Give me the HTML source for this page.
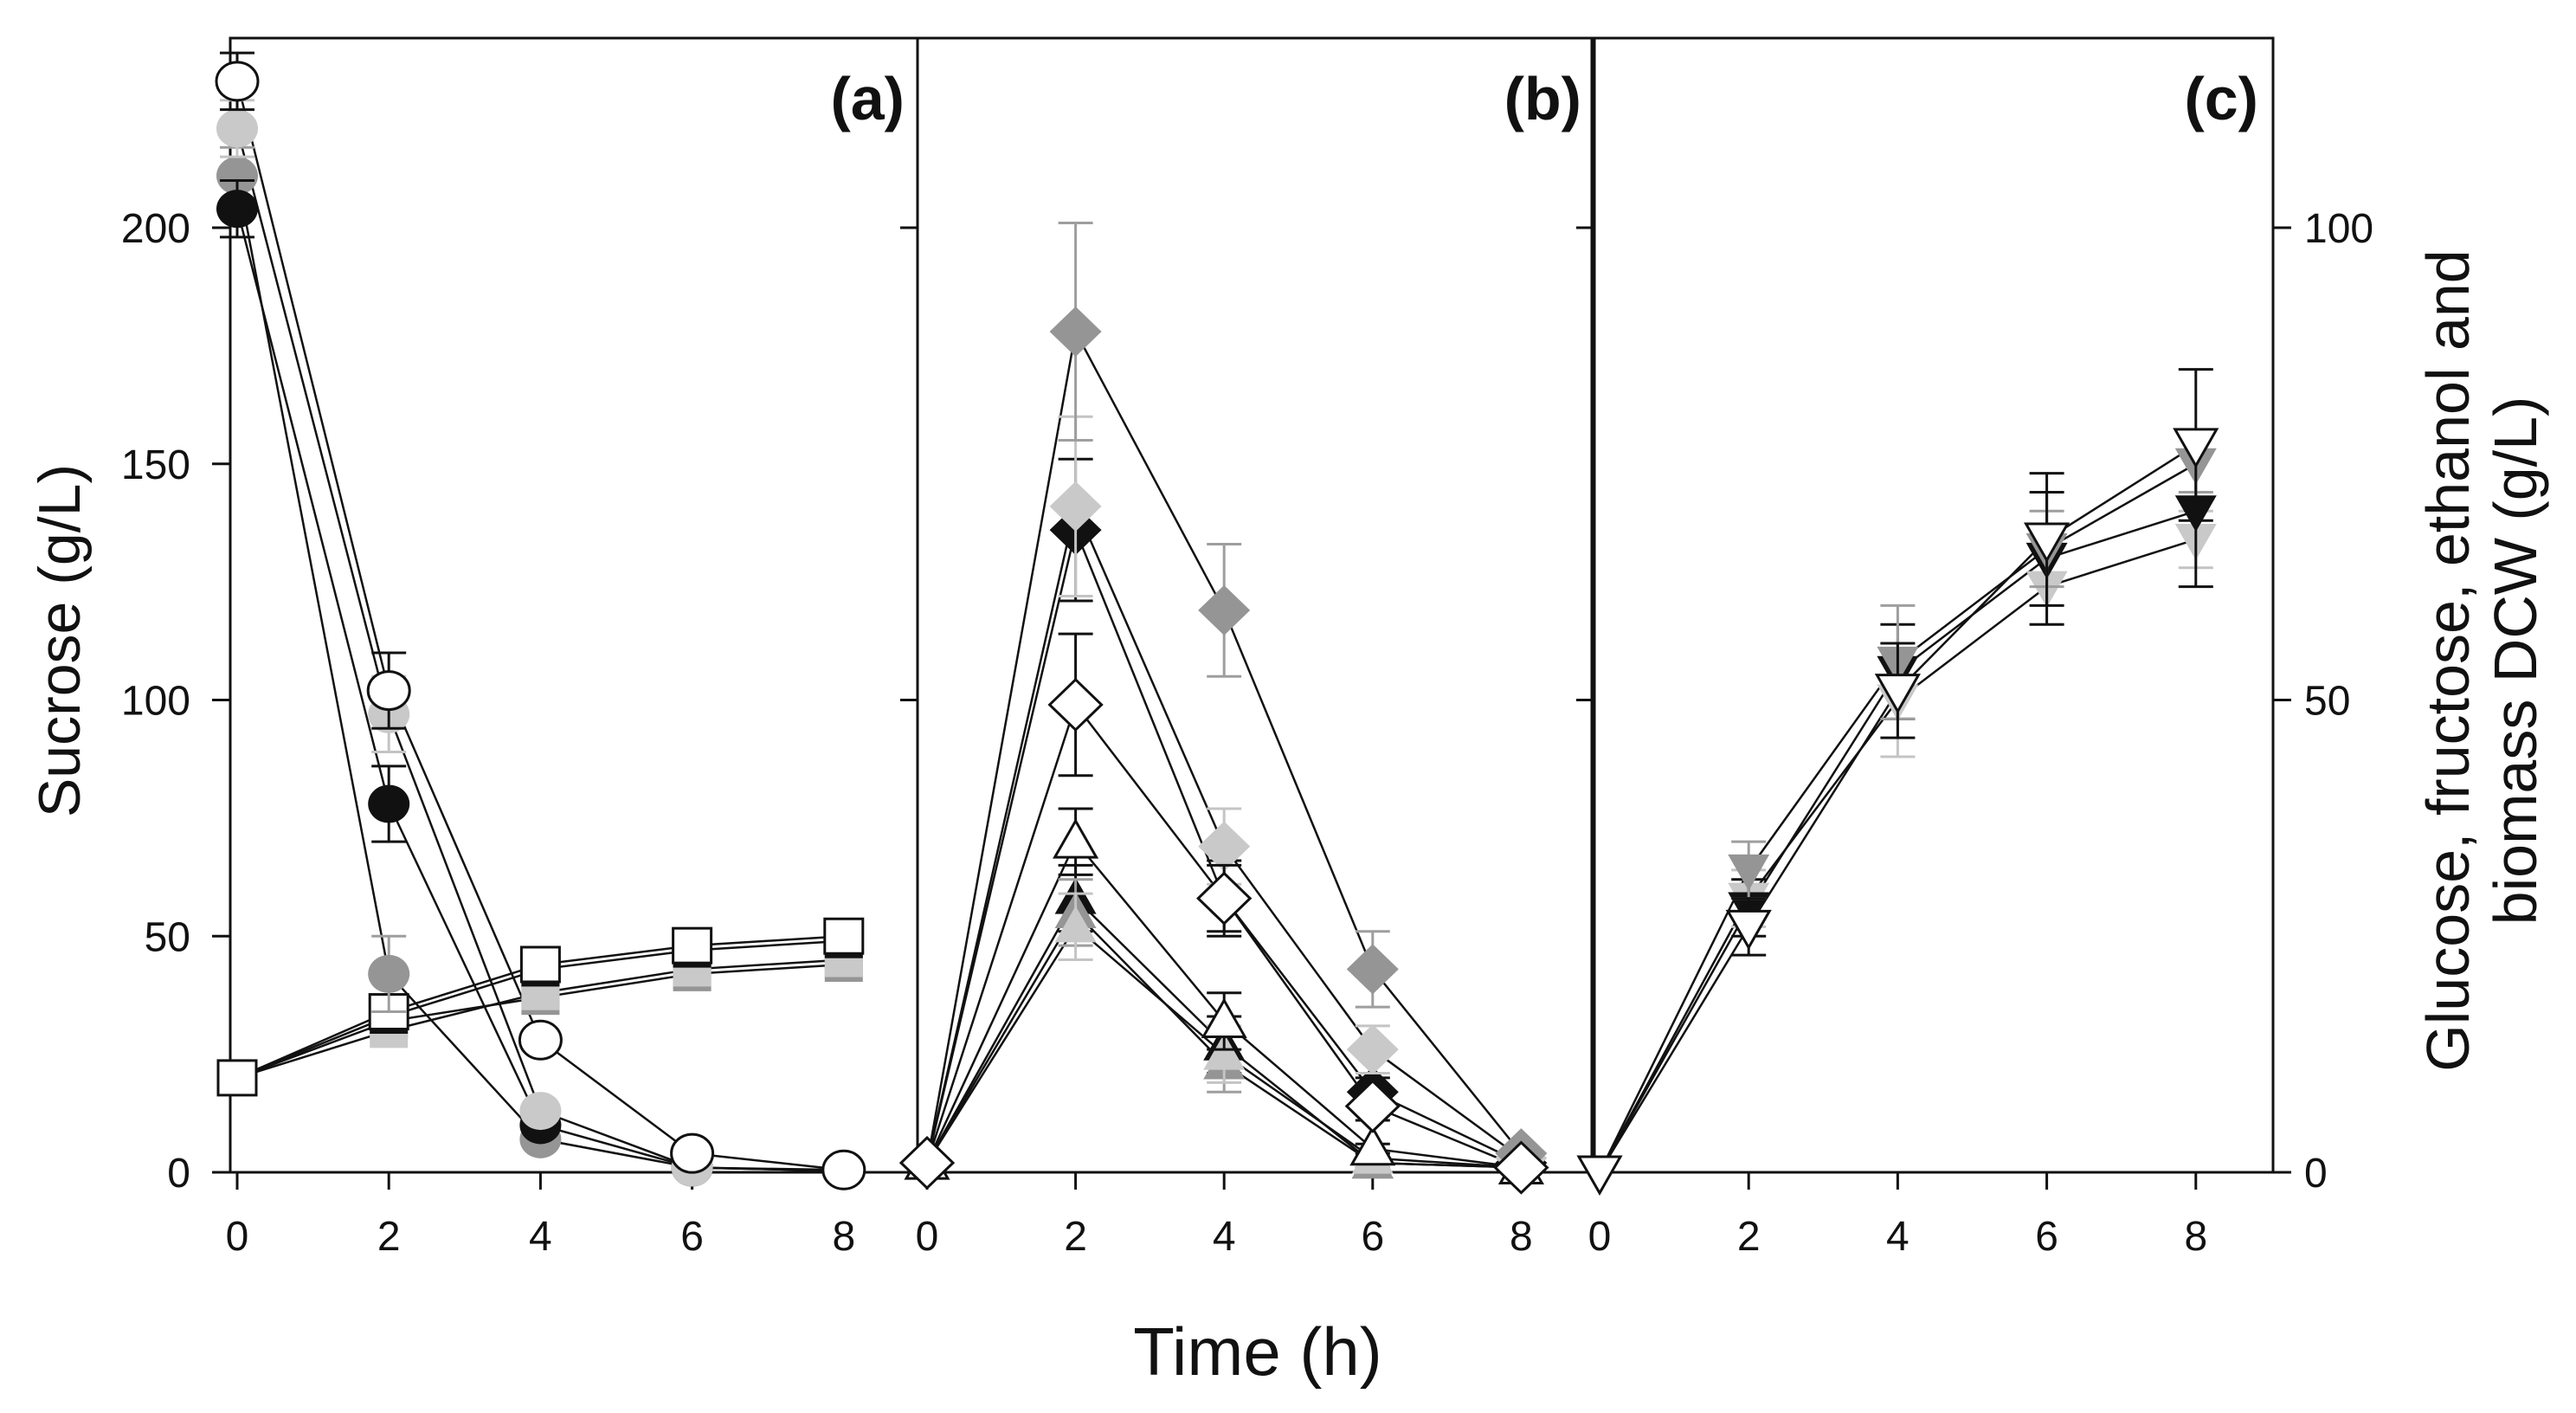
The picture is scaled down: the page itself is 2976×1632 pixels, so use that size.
<!DOCTYPE html>
<html><head><meta charset="utf-8"><style>
body{margin:0;background:#fff}
svg{display:block}
text{font-family:"Liberation Sans",sans-serif;fill:#111}
</style></head><body>
<svg id="chart" width="2976" height="1632" viewBox="0 0 2976 1632" xmlns="http://www.w3.org/2000/svg">
<g id="frames" fill="none" stroke="#111" stroke-width="3">
<rect x="266" y="44" width="794" height="1310"/>
<rect x="1060" y="44" width="779" height="1310"/>
<rect x="1842" y="44" width="784" height="1310"/>
</g>
<g id="axes"></g>
<g id="marks"></g>
<text x="1045" y="138" text-anchor="end" font-size="70" font-weight="bold">(a)</text>
<text x="1827" y="138" text-anchor="end" font-size="70" font-weight="bold">(b)</text>
<text x="2609" y="138" text-anchor="end" font-size="70" font-weight="bold">(c)</text>
<text transform="translate(92,740) rotate(-90)" text-anchor="middle" font-size="68">Sucrose (g/L)</text>
<text transform="translate(2852,763) rotate(-90)" text-anchor="middle" font-size="70">Glucose, fructose, ethanol and</text>
<text transform="translate(2930,763) rotate(-90)" text-anchor="middle" font-size="70">biomass DCW (g/L)</text>
<text x="1453" y="1588" text-anchor="middle" font-size="78">Time (h)</text>
</svg>
<script>
const times = [0, 2, 4, 6, 8];
const leftTicks = [0, 50, 100, 150, 200];
const rightTicks = [0, 50, 100];
const xTickLabels = ["0", "2", "4", "6", "8"];
// Panel a: sucrose circles
const sucBlack = [204, 78, 10, 1, 0.5];
const sucDark = [211, 42, 7, 1, 0.3];
const sucLight = [221, 97, 13, 1, 0.3];
const sucWhite = [231, 102, 28, 4, 0.5];
const sucErr = [6, 8, 2, 1, 0.5];
// Panel a: squares
const sqDark = [20, 32, 37, 42, 44];
const sqLight = [20, 30, 38, 43, 45];
const sqBlack = [20, 33, 43, 47, 49];
const sqWhite = [20, 34, 44, 48, 50];
// Panel b: diamonds
const diaDark = [2, 178, 119, 43, 4];
const diaDarkErr = [0, 23, 14, 8, 1];
const diaLight = [2, 141, 69, 26, 3];
const diaLightErr = [0, 19, 8, 5, 1];
const diaBlack = [2, 136, 58, 17, 2];
const diaBlackErr = [0, 15, 8, 3, 1];
const diaWhite = [2, 99, 58, 14, 1];
const diaWhiteErr = [0, 15, 7, 3, 1];
// Panel b: up triangles
const triWhite = [2, 70, 32, 5, 1];
const triBlack = [2, 58, 27, 2, 1];
const triDark = [2, 55, 23, 2, 1];
const triLight = [2, 52, 25, 3, 1];
const triErr = [0, 7, 6, 1, 0.5];
// Panel c: down triangles (right axis)
const dnLight = [0, 29, 50, 62, 67];
const dnBlack = [0, 28, 53, 65, 70];
const dnDark = [0, 32, 54, 66, 75];
const dnWhite = [0, 26, 51, 67, 77];
const dnWhiteErr = [0, 3, 5, 7, 8];
const dnLightErr = [0, 3, 6, 4, 3];

const NS = "http://www.w3.org/2000/svg";
const Y0 = 1354, PXU = 5.455;
function yL(v){ return Y0 - v * PXU; }
function yR(v){ return Y0 - v * PXU * 2; }
const panels = {
  a: {x0: 274, step: 87.6},
  b: {x0: 1071, step: 85.8},
  c: {x0: 1848, step: 86.1}
};
function xOf(p, t){ return panels[p].x0 + t * panels[p].step; }
const BLACK = "#111", DARK = "#959595", LIGHT = "#c9c9c9", WHITE = "#fff";
const axes = document.getElementById("axes");
const marks = document.getElementById("marks");
function mk(tag, attrs, parent){
  const e = document.createElementNS(NS, tag);
  for (const k in attrs) e.setAttribute(k, attrs[k]);
  parent.appendChild(e);
  return e;
}
leftTicks.forEach(v => {
  const l = mk("line", {x1:245, x2:266, y1:yL(v), y2:yL(v), stroke:BLACK, "stroke-width":3}, axes);
  
  
  const t = mk("text", {x:220, y:yL(v)+17, "text-anchor":"end", "font-size":48}, axes);
  t.textContent = v;
  
  
});
[0, 100, 200].forEach(v => {
  [1040, 1821].forEach(xx => {
    const l = mk("line", {x1:xx, x2:xx+21, y1:yL(v), y2:yL(v), stroke:BLACK, "stroke-width":3}, axes);
    
    
  });
});
rightTicks.forEach(v => {
  const l = mk("line", {x1:2626, x2:2647, y1:yR(v), y2:yR(v), stroke:BLACK, "stroke-width":3}, axes);
  
  
  const t = mk("text", {x:2662, y:yR(v)+17, "text-anchor":"start", "font-size":48}, axes);
  t.textContent = v;
  
  
});
["a","b","c"].forEach(p => {
  times.forEach((tm, i) => {
    const x = xOf(p, tm);
    const l = mk("line", {x1:x, x2:x, y1:Y0, y2:Y0+20, stroke:BLACK, "stroke-width":3}, axes);
    
    
    const t = mk("text", {x:x, y:1444, "text-anchor":"middle", "font-size":48}, axes);
    t.textContent = xTickLabels[i];
    
    
  });
});

function series(p, vals, errs, yf, fill, shape, name){
  const pts = vals.map((v, i) => [xOf(p, times[i]), yf(v)]);
  const pl = mk("polyline", {points: pts.map(q => q.join(",")).join(" "), fill:"none", stroke:BLACK, "stroke-width":2.5}, marks);
  
  
  return {pts, vals, errs, yf, fill, shape, name, p};
}
function drawMarkers(s){
  const ec = s.fill === WHITE ? BLACK : (s.fill === BLACK ? BLACK : (s.fill === DARK ? "#9e9e9e" : "#c4c4c4"));
  s.pts.forEach((q, i) => {
    const [x, y] = q;
    if (s.errs && s.errs[i] > 0.6) {
      const yt = s.yf(s.vals[i] + s.errs[i]), yb = s.yf(s.vals[i] - s.errs[i]);
      const e = mk("path", {d:`M${x},${yt}V${yb}M${x-20},${yt}H${x+20}M${x-20},${yb}H${x+20}`, stroke:ec, "stroke-width":3, fill:"none"}, marks);
      
      
    }
    const st = s.fill === WHITE ? BLACK : "none";
    let m;
    if (s.shape === "circle") m = mk("ellipse", {cx:x, cy:y, rx:24, ry:22, fill:s.fill, stroke:st, "stroke-width":3}, marks);
    else if (s.shape === "square") m = mk("rect", {x:x-22, y:y-20, width:44, height:40, fill:s.fill, stroke:st, "stroke-width":3}, marks);
    else if (s.shape === "diamond") m = mk("polygon", {points:`${x},${y-29} ${x+30},${y} ${x},${y+29} ${x-30},${y}`, fill:s.fill, stroke:st, "stroke-width":3}, marks);
    else if (s.shape === "up") m = mk("polygon", {points:`${x},${y-24} ${x+24},${y+18} ${x-24},${y+18}`, fill:s.fill, stroke:st, "stroke-width":3}, marks);
    else m = mk("polygon", {points:`${x},${y+24} ${x+24},${y-18} ${x-24},${y-18}`, fill:s.fill, stroke:st, "stroke-width":3}, marks);
    
    
  });
}
const all = [
  series("a", sqDark, null, yL, DARK, "square", "ethanol-dark"),
  series("a", sqLight, null, yL, LIGHT, "square", "ethanol-light"),
  series("a", sqBlack, null, yL, BLACK, "square", "ethanol-black"),
  series("a", sqWhite, null, yL, WHITE, "square", "ethanol-white"),
  series("a", sucDark, sucErr, yL, DARK, "circle", "sucrose-dark"),
  series("a", sucBlack, sucErr, yL, BLACK, "circle", "sucrose-black"),
  series("a", sucLight, sucErr, yL, LIGHT, "circle", "sucrose-light"),
  series("a", sucWhite, sucErr, yL, WHITE, "circle", "sucrose-white"),
  series("b", triBlack, triErr, yL, BLACK, "up", "glucose-black"),
  series("b", triDark, triErr, yL, DARK, "up", "glucose-dark"),
  series("b", triLight, triErr, yL, LIGHT, "up", "glucose-light"),
  series("b", triWhite, triErr, yL, WHITE, "up", "glucose-white"),
  series("b", diaBlack, diaBlackErr, yL, BLACK, "diamond", "fructose-black"),
  series("b", diaLight, diaLightErr, yL, LIGHT, "diamond", "fructose-light"),
  series("b", diaDark, diaDarkErr, yL, DARK, "diamond", "fructose-dark"),
  series("b", diaWhite, diaWhiteErr, yL, WHITE, "diamond", "fructose-white"),
  series("c", dnLight, dnLightErr, yR, LIGHT, "down", "biomass-light"),
  series("c", dnBlack, dnWhiteErr, yR, BLACK, "down", "biomass-black"),
  series("c", dnDark, dnLightErr, yR, DARK, "down", "biomass-dark"),
  series("c", dnWhite, dnWhiteErr, yR, WHITE, "down", "biomass-white")
];
all.forEach(drawMarkers);
</script>
</body></html>
